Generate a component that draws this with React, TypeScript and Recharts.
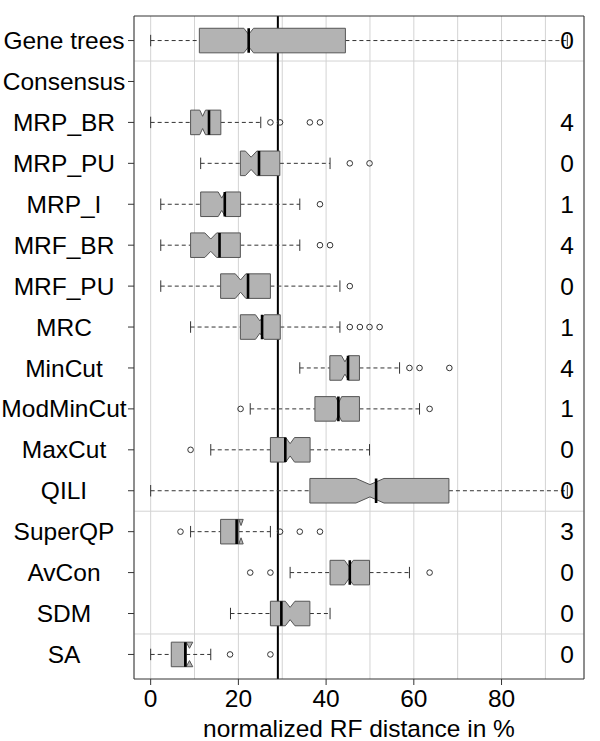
import React from 'react';
import { ComposedChart, XAxis, YAxis, Scatter, ReferenceLine, CartesianGrid } from 'recharts';

const ROWS = [
  'Gene trees', 'Consensus', 'MRP_BR', 'MRP_PU', 'MRP_I', 'MRF_BR', 'MRF_PU', 'MRC',
  'MinCut', 'ModMinCut', 'MaxCut', 'QILI', 'SuperQP', 'AvCon', 'SDM', 'SA',
];
const LOW = [0, null, 0, 11.4, 2.3, 2.3, 2.3, 9.1, 34.0, 22.7, 13.7, 0, 9.1, 31.8, 18.2, 0];
const Q1 = [11.1, null, 9.1, 20.45, 11.4, 9.1, 15.95, 20.45, 40.85, 37.45, 27.3, 36.3, 15.95, 40.9, 27.3, 4.7];
const MEDIAN = [22.35, null, 11.85, 22.9, 16.2, 13.7, 20.5, 24.9, 44.3, 42.85, 31.8, 50.0, 20.6, 45.2, 31.8, 8.85];
const NOTCH = [1.1, null, 0.65, 1.3, 0.8, 1.35, 1.2, 1.0, 0.8, 0.7, 1.0, 3.2, 0.5, 1.0, 1.1, 0.75];
const Q3 = [44.4, null, 16.0, 29.45, 20.5, 20.45, 27.3, 29.55, 47.6, 47.6, 36.35, 68.0, 20.1, 49.9, 36.3, 8.1];
const HIGH = [95, null, 25.1, 40.9, 34.0, 34.0, 43.15, 43.15, 56.75, 61.3, 49.9, 95, 27.3, 59.0, 40.9, 13.7];
const MEAN = [22.35, null, 13.3, 24.7, 16.9, 15.7, 22.2, 25.4, 45.0, 42.8, 30.7, 51.4, 19.6, 45.4, 29.8, 7.9];
const OUTLIERS = [
  [], [], [27.3, 29.5, 36.3, 38.6], [45.4, 49.9], [38.6], [38.6, 40.9], [45.4],
  [45.4, 47.7, 49.9, 52.2], [59.0, 61.3, 68.1], [20.5, 63.6], [9.1], [],
  [6.8, 29.5, 34.0, 38.6], [22.7, 27.3, 63.6], [], [18.1, 27.3],
];
const COUNTS = [0, null, 4, 0, 1, 4, 0, 1, 4, 1, 0, 0, 3, 0, 0, 0];
const REFERENCE = 29;
const X_TICKS = [0, 20, 40, 60, 80];
const GRID_TICKS = [0, 10, 20, 30, 40, 50, 60, 70, 80, 90];
const SEPARATORS = [1.5, 12.5, 15.5];

const FONT = '"Liberation Sans", Arial, Helvetica, sans-serif';
const HALF = 0.3; // box half height in row units
const CAP = 0.14;
const X_DOMAIN = [-3.8, 98.8];
const Y_DOMAIN = [0.4, 16.6];
const rowIdx = ROWS.map((_, i) => i).filter((i) => Q1[i] != null);

const boxPts: { x: number; y: number }[] = [];
const whiskerPts: { x: number; y: number }[] = [];
const capPts: { x: number; y: number }[] = [];
const meanPts: { x: number; y: number }[] = [];
const outlierPts: { x: number; y: number }[] = [];

rowIdx.forEach((i) => {
  const r = i + 1;
  const q1 = Q1[i] as number, q3 = Q3[i] as number, med = MEDIAN[i] as number;
  const lo = med - (NOTCH[i] as number), hi = med + (NOTCH[i] as number);
  boxPts.push(
    { x: q1, y: r - HALF }, { x: lo, y: r - HALF }, { x: med, y: r - HALF / 2 },
    { x: hi, y: r - HALF }, { x: q3, y: r - HALF }, { x: q3, y: r + HALF },
    { x: hi, y: r + HALF }, { x: med, y: r + HALF / 2 }, { x: lo, y: r + HALF },
    { x: q1, y: r + HALF },
  );
  whiskerPts.push(
    { x: LOW[i] as number, y: r }, { x: q1, y: r },
    { x: q3, y: r }, { x: HIGH[i] as number, y: r },
  );
  capPts.push(
    { x: LOW[i] as number, y: r - CAP }, { x: LOW[i] as number, y: r + CAP },
    { x: HIGH[i] as number, y: r - CAP }, { x: HIGH[i] as number, y: r + CAP },
  );
  meanPts.push({ x: MEAN[i] as number, y: r - HALF }, { x: MEAN[i] as number, y: r + HALF });
  OUTLIERS[i].forEach((v) => outlierPts.push({ x: v, y: r }));
});

const groupPath = (n: number, closed: boolean, style: any) => (props: any) => {
  const pts = props.points || [];
  let d = '';
  for (let i = 0; i + n <= pts.length; i += n) {
    d += 'M' + pts.slice(i, i + n).map((p: any) => `${p.x},${p.y}`).join('L') + (closed ? 'Z' : '');
  }
  return <path d={d} {...style} />;
};

const Empty = () => <g />;

const NameTick = (props: any) => {
  const name = ROWS[props.payload.value - 1];
  return (
    <text x={64} y={props.y} dy="0.35em" textAnchor="middle" fontSize={24.5} fill="#000" fontFamily={FONT}>
      {name}
    </text>
  );
};

const CountTick = (props: any) => {
  const c = COUNTS[props.payload.value - 1];
  if (c == null) return <g />;
  return (
    <text x={props.x - 17} y={props.y} dy="0.35em" textAnchor="middle" fontSize={24.5} fill="#000" fontFamily={FONT}>
      {c}
    </text>
  );
};

export default function App() {
  return (
    <div style={{ position: 'absolute', left: 0, top: 0, background: '#fff' }}>
      <ComposedChart width={600} height={741} margin={{ top: 0, right: 0, bottom: 0, left: 0 }} style={{ fontFamily: FONT }}>
        <CartesianGrid xAxisId="top" horizontal={false} stroke="#d3d3d3" strokeWidth={1} />
        <XAxis
          dataKey="x"
          type="number"
          domain={X_DOMAIN}
          ticks={X_TICKS}
          allowDataOverflow
          height={62}
          tickSize={6}
          tickMargin={5}
          stroke="#333"
          tick={{ fill: '#000', fontSize: 24.5, fontFamily: FONT }}
          label={{ value: 'normalized RF distance in %', position: 'insideBottom', offset: 4, fill: '#000', fontSize: 24.5, fontFamily: FONT }}
        />
        <XAxis
          xAxisId="top"
          orientation="top"
          dataKey="x"
          type="number"
          domain={X_DOMAIN}
          ticks={GRID_TICKS}
          interval={0}
          allowDataOverflow
          height={16}
          tick={<Empty />}
          tickLine={false}
          stroke="#333"
        />
        <YAxis
          dataKey="y"
          type="number"
          domain={Y_DOMAIN}
          ticks={ROWS.map((_, i) => i + 1)}
          allowDataOverflow
          reversed
          width={134}
          tickSize={6}
          stroke="#333"
          tick={<NameTick />}
          interval={0}
        />
        <YAxis
          yAxisId="r"
          orientation="right"
          type="number"
          domain={Y_DOMAIN}
          ticks={ROWS.map((_, i) => i + 1)}
          allowDataOverflow
          reversed
          width={16}
          tickSize={0}
          tickMargin={0}
          tickLine={false}
          stroke="#333"
          tick={<CountTick />}
          interval={0}
        />
        {SEPARATORS.map((s) => (
          <ReferenceLine key={s} y={s} stroke="#d3d3d3" strokeWidth={1} />
        ))}
        <Scatter
          data={whiskerPts}
          isAnimationActive={false}
          shape={<Empty />}
          line={groupPath(2, false, { stroke: '#333', strokeWidth: 1, strokeDasharray: '4 3', fill: 'none' })}
        />
        <Scatter
          data={capPts}
          isAnimationActive={false}
          shape={<Empty />}
          line={groupPath(2, false, { stroke: '#333', strokeWidth: 1, fill: 'none' })}
        />
        <Scatter
          data={boxPts}
          isAnimationActive={false}
          shape={<Empty />}
          line={groupPath(10, true, { stroke: '#555', strokeWidth: 1, fill: '#b3b3b3', strokeLinejoin: 'miter' })}
        />
        <Scatter
          data={meanPts}
          isAnimationActive={false}
          shape={<Empty />}
          line={groupPath(2, false, { stroke: '#000', strokeWidth: 2.6, fill: 'none' })}
        />
        <Scatter
          data={outlierPts}
          isAnimationActive={false}
          shape={(p: any) => <circle cx={p.cx} cy={p.cy} r={2.8} fill="none" stroke="#333" strokeWidth={1} />}
        />
        <ReferenceLine x={REFERENCE} stroke="#000" strokeWidth={2} />
      </ComposedChart>
    </div>
  );
}
